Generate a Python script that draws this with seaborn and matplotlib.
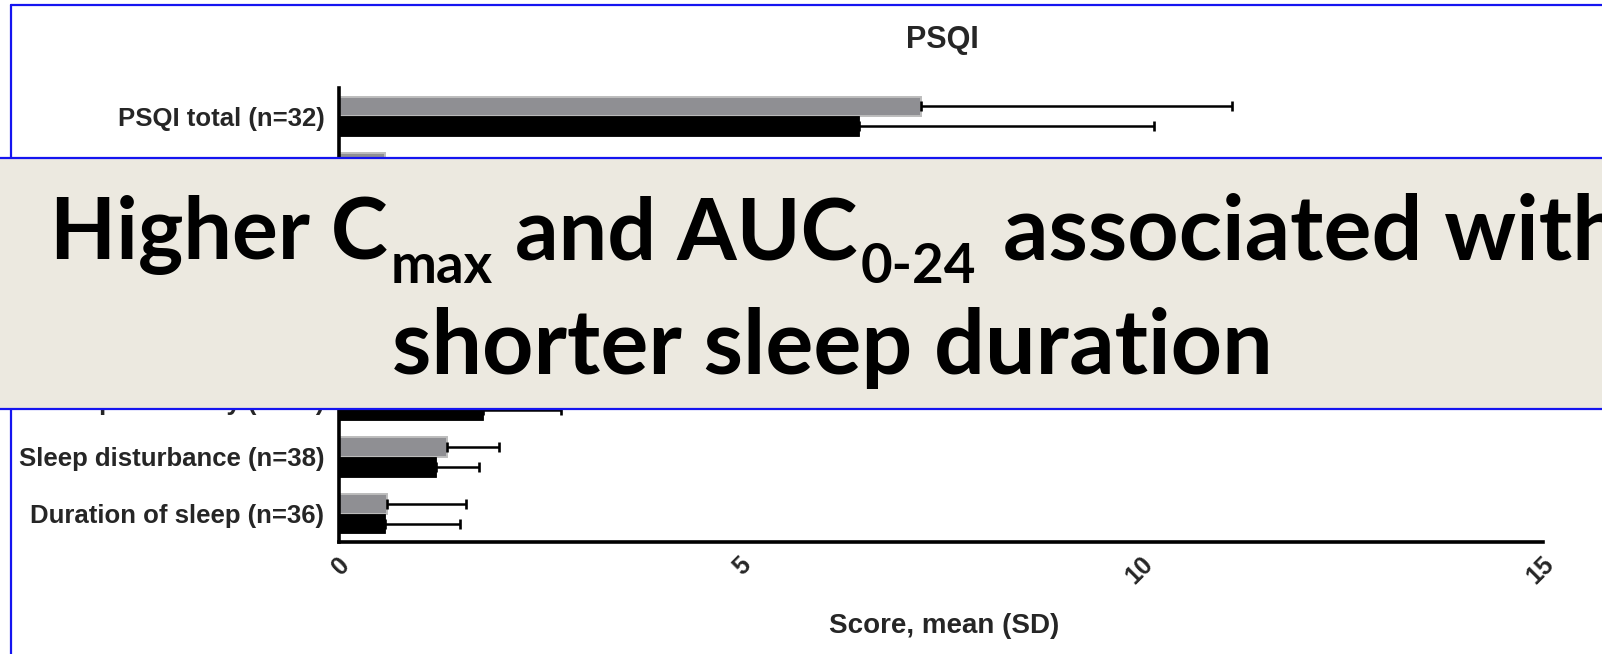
import numpy as np
import pandas as pd
import matplotlib
matplotlib.use("Agg")
import matplotlib.pyplot as plt
import seaborn as sns
from matplotlib.patches import Rectangle
from matplotlib.lines import Line2D
from matplotlib.transforms import ScaledTranslation

# ---------------- data ----------------
items = ["PSQI total (n=32)", "Medication (n=38)", "Dysfunction (n=37)",
         "Sleep latency (n=37)", "Sleep quality (n=38)", "Sleep efficiency (n=37)",
         "Sleep disturbance (n=38)", "Duration of sleep (n=36)"]
groups = ["Group 1", "Group 2"]          # grey, black
mean_g1 = [7.25, 0.57, 1.10, 1.45, 1.30, 1.90, 1.34, 0.60]
sd_g1 = [3.88, 1.07, 0.80, 1.00, 0.70, 1.05, 0.65, 0.98]
mean_g2 = [6.48, 0.45, 1.00, 1.30, 1.20, 1.79, 1.21, 0.57]
sd_g2 = [3.67, 0.95, 0.75, 0.90, 0.65, 0.97, 0.54, 0.94]
x_ticks = [0, 5, 10, 15]
title = "PSQI"
xlabel = "Score, mean (SD)"
banner_parts = [("Higher C", "main"), ("max", "sub"), (" and AUC", "main"), ("0-24", "sub"),
                (" associated with", "wide")]
banner_line2 = "shorter sleep duration"

# ---------------- style ----------------
sns.set_style("white")
plt.rcParams["font.family"] = ["Liberation Sans", "DejaVu Sans"]
plt.rcParams["font.weight"] = "bold"

W, H = 1602, 654
fig = plt.figure(figsize=(W / 100, H / 100), dpi=100)
fig.patch.set_facecolor("white")


def fx(px):
    return px / W


def fy(py):
    return 1 - py / H


ax_l, ax_r, ax_t, ax_b = 339, 1543, 88, 542
ax = fig.add_axes([fx(ax_l), fy(ax_b), (ax_r - ax_l) / W, (ax_b - ax_t) / H])

df = pd.DataFrame({
    "item": items * 2,
    "group": [groups[0]] * len(items) + [groups[1]] * len(items),
    "mean": mean_g1 + mean_g2,
})
sns.barplot(data=df, x="mean", y="item", hue="group", order=items, hue_order=groups,
            palette=["#8f8f93", "#000000"], orient="h", width=0.7, errorbar=None,
            saturation=1, legend=False, ax=ax)

sds = [sd_g1, sd_g2]
for p in list(ax.patches):
    yc = p.get_y() + p.get_height() / 2
    ci = int(round(yc))
    g = 0 if yc < ci else 1
    if g == 0:
        p.set_edgecolor("#bdbdbd")
        p.set_linewidth(1.4)
    else:
        p.set_edgecolor("#000000")
        p.set_linewidth(0.6)
    m = p.get_width()
    s = sds[g][ci]
    ax.errorbar(m, yc, xerr=[[0], [s]], fmt="none", ecolor="black", elinewidth=1.8,
                capsize=3.8, capthick=1.9, zorder=3)

ax.set_xlim(0, 15)
ax.set_ylim(len(items) - 0.5, -0.5)
for sp in ["top", "right"]:
    ax.spines[sp].set_visible(False)
for sp in ["left", "bottom"]:
    ax.spines[sp].set_linewidth(2.6)
    ax.spines[sp].set_color("black")
ax.spines["bottom"].set_bounds(0, 15)

ax.set_xticks(x_ticks)
ax.set_xticklabels([str(t) for t in x_ticks], rotation=45, ha="right", va="center",
                   rotation_mode="anchor", fontsize=18, fontweight="bold")
ax.tick_params(axis="x", length=9.5, width=2.4, pad=4, color="black")
ax.tick_params(axis="y", length=9.5, width=2.4, pad=1, color="black", labelsize=18.5)
shift = ScaledTranslation(7 / 100, 0, fig.dpi_scale_trans)
for lab in ax.get_xticklabels():
    lab.set_transform(lab.get_transform() + shift)
for lab in ax.get_yticklabels():
    lab.set_fontweight("bold")
ax.set_xlabel("")
ax.set_ylabel("")

fig.text(fx(942), fy(40), title, ha="center", va="center", fontsize=22, fontweight="bold")
fig.text(fx(944), fy(626), xlabel, ha="center", va="center", fontsize=20, fontweight="bold")

# slide frame (blue)
blue = "#1515f0"
fig.add_artist(Line2D([fx(11), fx(11)], [fy(5), 0], transform=fig.transFigure, color=blue, lw=1.6, zorder=5))
fig.add_artist(Line2D([fx(11), 1], [fy(5), fy(5)], transform=fig.transFigure, color=blue, lw=1.6, zorder=5))

# banner
b_top, b_bot = 158, 409
fig.add_artist(Rectangle((0, fy(b_bot)), 1, (b_bot - b_top) / H, transform=fig.transFigure,
                         facecolor="#ECE9E0", edgecolor="none", zorder=10))
for yy in (b_top, b_bot):
    fig.add_artist(Line2D([0, 1], [fy(yy), fy(yy)], transform=fig.transFigure, color=blue,
                          lw=1.6, zorder=11))

fig.canvas.draw()
r = fig.canvas.get_renderer()


def width_of(s, size):
    t = fig.text(0, 0, s, fontsize=size, family="Lato", fontweight="bold")
    w = t.get_window_extent(renderer=r).width
    t.remove()
    return w


base = 60
S = base * 879 / width_of(banner_line2, base)
sizes = {"main": S * 0.96, "sub": S * 0.61, "wide": S * 1.0}
space_w = width_of("a a", S) - width_of("aa", S)

x = 50
for txt, kind in banner_parts:
    size = sizes[kind]
    if txt.startswith(" "):
        x += space_w + (6 if kind == "wide" else 0)
        txt = txt.strip()
    base_y = 283 if kind == "sub" else 259
    fig.text(fx(x), fy(base_y), txt, fontsize=size, family="Lato", fontweight="bold",
             ha="left", va="baseline", color="black", zorder=12)
    x += width_of(txt, size) + (3 if kind != "sub" else 0)

fig.text(fx(832.5), fy(374), banner_line2, fontsize=S, family="Lato", fontweight="bold",
         ha="center", va="baseline", color="black", zorder=12)

fig.savefig("out.png", dpi=100, facecolor="white")
